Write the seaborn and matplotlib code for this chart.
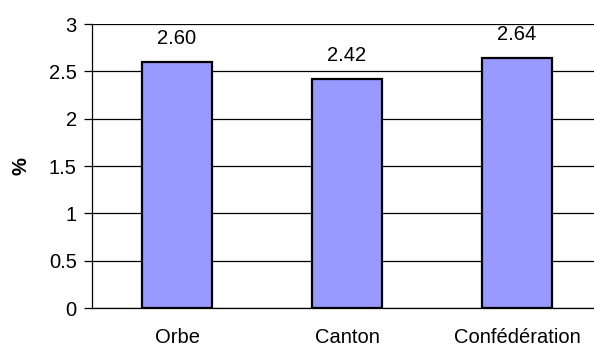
import matplotlib
matplotlib.use("Agg")
import matplotlib.pyplot as plt
import seaborn as sns
import pandas as pd

regions = ["Orbe", "Canton", "Confédération"]
values = [2.60, 2.42, 2.64]
yticks = [0, 0.5, 1, 1.5, 2, 2.5, 3]

df = pd.DataFrame({"region": regions, "value": values})

sns.set_style("white")
plt.rcParams['font.family'] = ['Liberation Sans', 'DejaVu Sans']
plt.rcParams['text.color'] = 'black'
plt.rcParams['xtick.color'] = 'black'
plt.rcParams['ytick.color'] = 'black'
plt.rcParams['axes.labelcolor'] = 'black'

fig = plt.figure(figsize=(5.94, 3.49), dpi=100)
ax = fig.add_axes([92 / 594, 1 - 308 / 349, 510 / 594, 284 / 349])

sns.barplot(data=df, x="region", y="value", color="#9999FF", width=0.41,
            edgecolor="black", linewidth=1.6, saturation=1, ax=ax, zorder=3)

for i, v in enumerate(values):
    ax.annotate(f"{v:.2f}", (i, v), xytext=(0, 10), textcoords="offset points",
                ha="center", va="bottom", fontsize=14.5, color="black")

ax.set_xlim(-0.5, 2.5)
ax.set_ylim(0, 3)
ax.set_yticks(yticks)
ax.set_yticklabels([f"{t:g}" for t in yticks])
ax.yaxis.grid(True, color="black", linewidth=0.9)
ax.set_axisbelow(True)

ax.set_xticks([-0.5, 0.5, 1.5, 2.5], minor=True)
ax.tick_params(axis="x", which="minor", length=4, width=0.9, color="black", direction="out")
ax.tick_params(axis="x", which="major", length=0, pad=14.5, labelsize=14.5)
ax.tick_params(axis="y", length=6, width=0.9, color="black", direction="out",
               labelsize=14.5, pad=5, left=True)

for s in ["top", "right"]:
    ax.spines[s].set_visible(False)
for s in ["left", "bottom"]:
    ax.spines[s].set_color("black")
    ax.spines[s].set_linewidth(0.9)

ax.set_xlabel("")
ax.set_ylabel("%", fontsize=14.5, fontweight="bold", labelpad=13)

fig.savefig("out.png", dpi=100)
